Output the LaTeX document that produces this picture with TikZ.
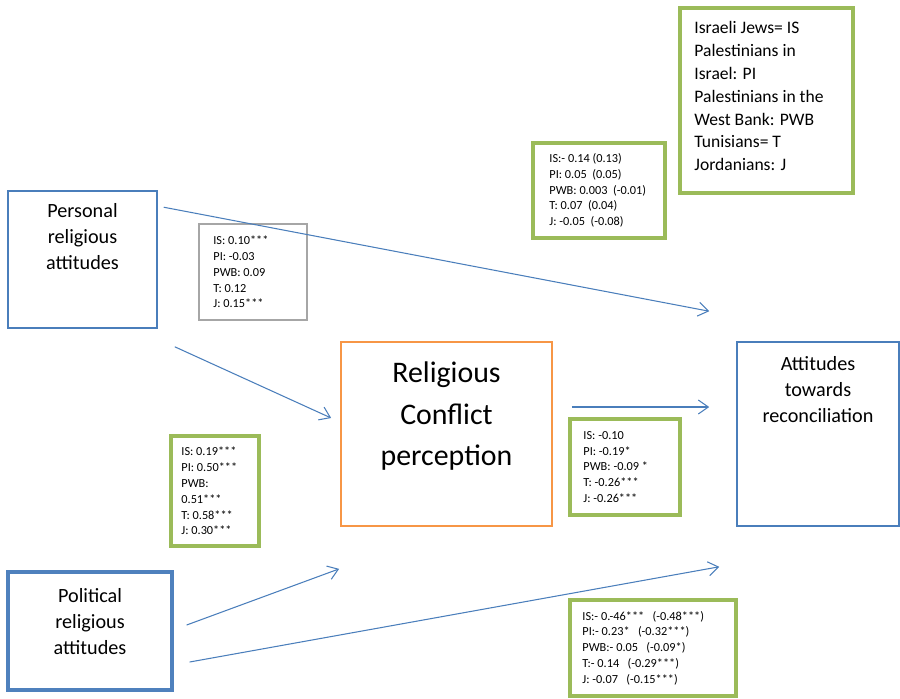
\documentclass[tikz,border=0pt]{standalone}
\usepackage{fontspec}
\setmainfont{Carlito}
\usepackage{tikz}
\usetikzlibrary{positioning, arrows.meta}
\definecolor{boxblue}{HTML}{4A7EBB}
\definecolor{polblue}{HTML}{4F81BD}
\definecolor{rcporange}{HTML}{F79646}
\definecolor{coefgreen}{HTML}{9BBB59}
\definecolor{coefgrey}{HTML}{A6A6A6}
\tikzstyle{varbox} = [rectangle, draw=boxblue, line width=0.9pt, inner sep=0pt]
\tikzstyle{coefbox} = [rectangle, draw=coefgreen, line width=2.2pt, inner sep=0pt]
\tikzstyle{vartext} = [font=\fontsize{11.5}{14.7}\selectfont, align=center, inner sep=0pt, anchor=north]
\tikzstyle{coeftext} = [font=\fontsize{7}{9}\selectfont, align=left, inner sep=0pt, anchor=west]
\tikzstyle{arrow} = [draw=boxblue, line width=0.6pt, -{Straight Barb[length=2mm,width=2.8mm]}]

\begin{document}
\begin{tikzpicture}[x=0.02cm, y=-0.02cm]
	\useasboundingbox (0,0) rectangle (900,698);
	% variables
	\node (per) [varbox, minimum width=2.98cm, minimum height=2.74cm, label={[vartext, yshift=-0.26cm]north:{Personal\\religious\\attitudes}}] at (82.5,259.5) {};
	\node (pol) [varbox, draw=polblue, line width=1.9pt, minimum width=3.28cm, minimum height=2.36cm, label={[vartext, yshift=-0.36cm]north:{Political\\religious\\attitudes}}] at (90,631) {};
	\node (rcp) [varbox, draw=rcporange, line width=1pt, minimum width=4.22cm, minimum height=3.68cm, label={[vartext, font=\fontsize{17}{23.8}\selectfont, yshift=-0.40cm]north:{Religious\\Conflict\\perception}}] at (446.5,434) {};
	\node (att) [varbox, minimum width=3.24cm, minimum height=3.68cm, label={[vartext, yshift=-0.30cm]north:{Attitudes\\towards\\reconciliation}}] at (818,434) {};
	% legend
	\node (leg) [coefbox, minimum width=3.46cm, minimum height=3.70cm, label={[font=\fontsize{10}{13}\selectfont, align=left, inner sep=0pt, anchor=north west, xshift=0.32cm, yshift=-0.30cm]north west:{Israeli Jews= IS\\Palestinians in\\Israel: PI\\Palestinians in the\\West Bank: PWB\\Tunisians= T\\Jordanians: J}}] at (766.5,100.5) {};
	% coefficients
	\node (cdir) [coefbox, minimum width=2.64cm, minimum height=1.90cm, label={[coeftext, xshift=0.36cm]west:{IS:- 0.14 (0.13)\\PI: 0.05~~(0.05)\\PWB: 0.003~~(-0.01)\\T: 0.07~~(0.04)\\J: -0.05~~(-0.08)}}] at (599,190.5) {};
	\node (cper) [coefbox, draw=coefgrey, line width=1.1pt, minimum width=2.16cm, minimum height=1.92cm, label={[coeftext, xshift=0.30cm]west:{IS: 0.10***\\PI: -0.03\\PWB: 0.09\\T: 0.12\\J: 0.15***}}] at (253,272) {};
	\node (cpol) [coefbox, minimum width=1.76cm, minimum height=2.20cm, label={[coeftext, xshift=0.24cm]west:{IS: 0.19***\\PI: 0.50***\\PWB:\\0.51***\\T: 0.58***\\J: 0.30***}}] at (215,491) {};
	\node (crcp) [coefbox, minimum width=2.20cm, minimum height=1.92cm, label={[coeftext, xshift=0.30cm]west:{IS: -0.10\\PI: -0.19*\\PWB: -0.09 *\\T: -0.26***\\J: -0.26***}}] at (625,467) {};
	\node (cind) [coefbox, minimum width=3.32cm, minimum height=1.92cm, label={[coeftext, xshift=0.28cm]west:{IS:- 0.-46***~~~(-0.48***)\\PI:- 0.23*~~~(-0.32***)\\PWB:- 0.05~~~(-0.09*)\\T:- 0.14~~~(-0.29***)\\J: -0.07~~~(-0.15***)}}] at (653,648) {};
	% paths
	\draw [arrow] ([shift={(6,17)}]per.north east) -- ([shift={(-27,-30)}]att.north west);
	\draw [arrow] ([shift={(17,18)}]per.south east) -- ([shift={(-9,-16)}]rcp.west);
	\draw [arrow] ([shift={(19,-27)}]rcp.east) -- ([shift={(-27,-27)}]att.west);
	\draw [arrow] ([shift={(13,-6)}]pol.east) -- ([shift={(-1,42)}]rcp.south west);
	\draw [arrow] ([shift={(16,31)}]pol.east) -- ([shift={(-17,40)}]att.south west);
\end{tikzpicture}
\end{document}
